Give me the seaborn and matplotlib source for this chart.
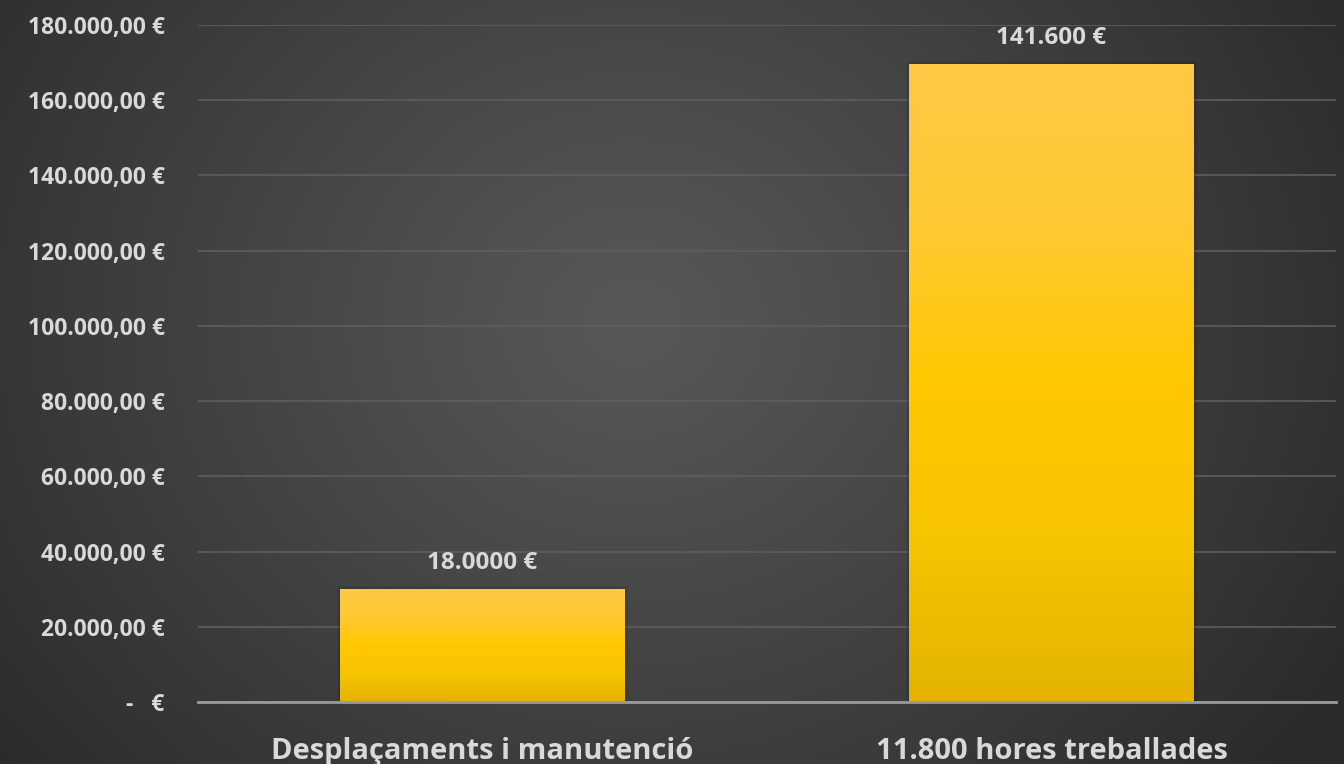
import numpy as np
import pandas as pd
import matplotlib
matplotlib.use("Agg")
import matplotlib.pyplot as plt
import seaborn as sns
from matplotlib.colors import LinearSegmentedColormap

categories = ["Desplaçaments i manutenció", "11.800 hores treballades"]
values = [30000, 169600]
value_labels = ["18.0000 €", "141.600 €"]
yticks = [0, 20000, 40000, 60000, 80000, 100000, 120000, 140000, 160000, 180000]
ytick_labels = ["-   €", "20.000,00 €", "40.000,00 €", "60.000,00 €", "80.000,00 €",
                "100.000,00 €", "120.000,00 €", "140.000,00 €", "160.000,00 €", "180.000,00 €"]

sns.set_theme(style="white")
plt.rcParams['font.family'] = ['Open Sans', 'DejaVu Sans']

W, H = 1344, 764
fig = plt.figure(figsize=(W / 100, H / 100), dpi=100)

# radial background
bg = fig.add_axes([0, 0, 1, 1], zorder=-10)
yy, xx = np.mgrid[0:H, 0:W]
cx, cy = W * 0.47, H * 0.42
r = np.sqrt(((xx - cx) / (W * 0.62)) ** 2 + ((yy - cy) / (H * 0.95)) ** 2)
r = np.clip(r, 0, 1)
c_in, c_out = 0x58 / 255, 0x2a / 255
img = c_in + (c_out - c_in) * r ** 1.1
bg.imshow(np.dstack([img, img, img]), aspect="auto", extent=[0, 1, 0, 1])
bg.axis("off")

ax = fig.add_axes([198 / W, 62 / H, (1336 - 198) / W, (702 - 25) / H])
ax.set_facecolor("none")
df = pd.DataFrame({"cat": categories, "val": values})
sns.barplot(data=df, x="cat", y="val", ax=ax, width=0.5, color="#FFC800",
            edgecolor="none", zorder=3)

ax.set_ylim(0, 180000)
ax.set_yticks(yticks)
ax.set_yticklabels(ytick_labels)
for s in ["top", "right", "left"]:
    ax.spines[s].set_visible(False)
ax.spines["bottom"].set_color("#9a9a9a")
ax.spines["bottom"].set_linewidth(2)
ax.spines["bottom"].set_zorder(5)
ax.grid(axis="y", color="#5e5e5e", linewidth=1.2, zorder=0)
ax.set_axisbelow(True)
ax.set_xlabel("")
ax.set_ylabel("")
ax.tick_params(axis="y", length=0, pad=24, labelsize=16.5, labelcolor="#d9d9d9")
ax.tick_params(axis="x", length=0, pad=41, labelsize=21, labelcolor="#d9d9d9")
for lab in ax.get_yticklabels() + ax.get_xticklabels():
    lab.set_fontweight("bold")
for lab in ax.get_xticklabels():
    lab.set_va("baseline")

# gradient fill on bars
cmap = LinearSegmentedColormap.from_list("gold", ["#E3B300", "#F7C400", "#FFC800", "#FFC933", "#FFC845"])
grad = np.linspace(0, 1, 256).reshape(-1, 1)
for p, lab in zip(ax.patches, value_labels):
    x0, y0 = p.get_x(), p.get_y()
    w, h = p.get_width(), p.get_height()
    # soft shadow
    for k, a in [(5, 0.04), (3, 0.05), (1.5, 0.06)]:
        ax.bar(x0 + w / 2, h, width=w, color="none", zorder=2,
               linewidth=k, edgecolor=(0, 0, 0, a))
    im = ax.imshow(grad, cmap=cmap, aspect="auto", origin="lower",
                   extent=[x0, x0 + w, y0, y0 + h], zorder=4)
    im.set_clip_path(p)
    ax.text(x0 + w / 2, h + 5400, lab, ha="center", va="baseline", fontsize=17.5,
            fontweight="bold", color="#d9d9d9", zorder=6)

ax.set_xlim(-0.5, 1.5)
ax.set_ylim(0, 180000)

fig.savefig("out.png", dpi=100)
